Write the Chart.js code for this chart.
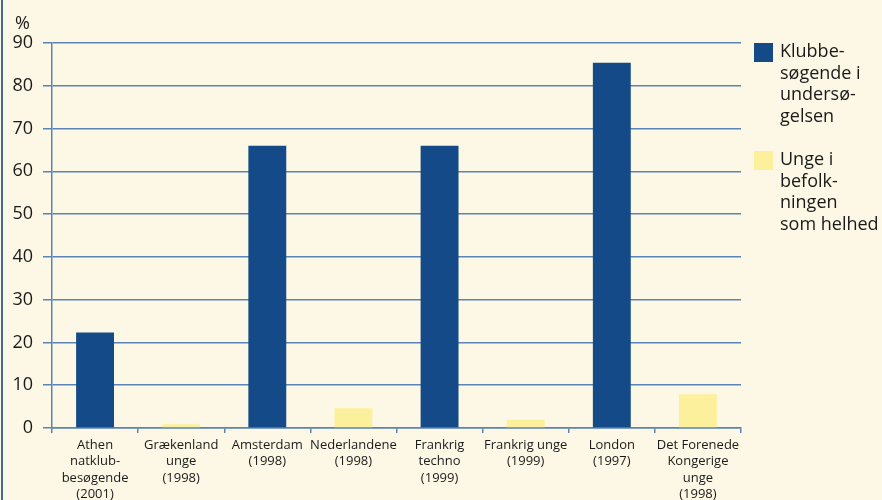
<!DOCTYPE html>
<html>
<head>
<meta charset="utf-8">
<script src="https://cdn.jsdelivr.net/npm/chart.js@4"></script>
<style>
  html, body { margin: 0; padding: 0; background: #fdf8e5; }
  #wrap { position: relative; width: 882px; height: 500px; overflow: hidden; background: #fdf8e5; font-family: 'Open Sans', sans-serif; color: #1a1a1a; }
  #edge { position: absolute; left: 1px; top: 0; width: 1.5px; height: 500px; background: #3f6aa5; }
  #unit { position: absolute; left: 15px; top: 10px; font-size: 18px; }
  #legend { position: absolute; left: 754px; top: 40px; font-size: 18px; line-height: 21.5px; }
  .item { position: relative; padding-left: 26px; margin-bottom: 22px; }
  .box { position: absolute; left: 0; top: 3px; width: 19px; height: 19px; }
</style>
</head>
<body>
<div id="wrap">
  <canvas id="chart" width="882" height="500"></canvas>
  <div id="edge"></div>
  <div id="unit">%</div>
  <div id="legend"></div>
</div>
<script>
const categories = [
  ['Athen', 'natklub-', 'besøgende', '(2001)'],
  ['Grækenland', 'unge', '(1998)'],
  ['Amsterdam', '(1998)'],
  ['Nederlandene', '(1998)'],
  ['Frankrig', 'techno', '(1999)'],
  ['Frankrig unge', '(1999)'],
  ['London', '(1997)'],
  ['Det Forenede', 'Kongerige', 'unge', '(1998)']
]
const clubbers = [22.3, null, 66, null, 66, null, 85.4, null]
const youth = [null, 0.9, null, 4.6, null, 1.9, null, 7.9]
const seriesNames = [['Klubbe-', 'søgende i', 'undersø-', 'gelsen'], ['Unge i', 'befolk-', 'ningen', 'som helhed']]
const colors = ['#134a87', '#fdf09c']

const gridColor = '#5a84b6'

// legend as html so the broken lines stay as in the original
const legendEl = document.getElementById('legend')
seriesNames.forEach((lines, i) => {
  const item = document.createElement('div')
  item.className = 'item'
  item.innerHTML = '<span class="box" style="background:' + colors[i] + '"></span>' + lines.join('<br>')
  legendEl.appendChild(item)
})

const chart = new Chart(document.getElementById('chart'), {
  type: 'bar',
  data: {
    labels: categories,
    datasets: [
      {
        label: seriesNames[0].join(' '),
        data: clubbers,
        backgroundColor: colors[0],
        skipNull: true
      },
      {
        label: seriesNames[1].join(' '),
        data: youth,
        backgroundColor: colors[1],
        skipNull: true
      }
    ]
  },
  options: {
    responsive: false,
    animation: false,
    devicePixelRatio: 1,
    barPercentage: 0.44,
    categoryPercentage: 1,
    layout: {
      padding: { top: 43, right: 141, left: 0, bottom: 0 }
    },
    plugins: {
      legend: { display: false },
      tooltip: { enabled: false }
    },
    scales: {
      x: {
        grid: {
          offset: true,
          drawOnChartArea: false,
          drawTicks: true,
          tickLength: 5,
          color: gridColor,
          lineWidth: 1.5
        },
        border: { color: gridColor, width: 1.5 },
        ticks: {
          color: '#1a1a1a',
          font: { family: 'Open Sans', size: 13, lineHeight: 1.27 },
          maxRotation: 0,
          autoSkip: false,
          padding: 4
        },
        afterFit: (scale) => { scale.height = 72 }
      },
      y: {
        min: 0,
        max: 90,
        grid: {
          color: gridColor,
          lineWidth: 1.5,
          tickLength: 9
        },
        border: { color: gridColor, width: 1.5 },
        ticks: {
          stepSize: 10,
          color: '#1a1a1a',
          font: { family: 'Open Sans', size: 18 },
          padding: 10
        },
        afterFit: (scale) => { scale.width = 52 }
      }
    }
  }
})
</script>
</body>
</html>
